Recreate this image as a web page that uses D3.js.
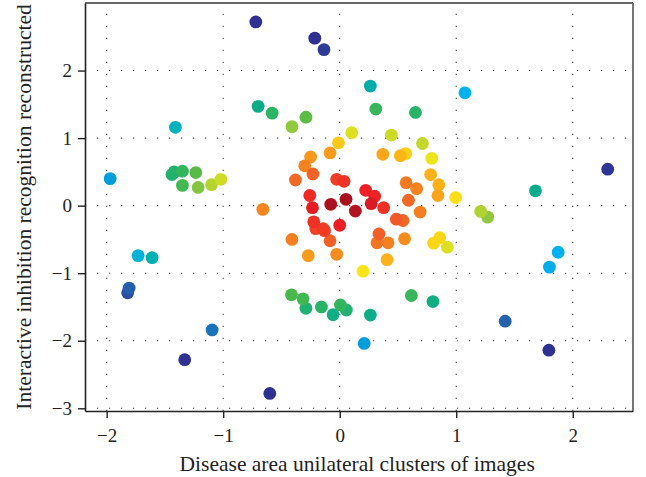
<!DOCTYPE html>
<html>
<head>
<meta charset="utf-8">
<script src="https://cdn.jsdelivr.net/npm/d3@7"></script>
<style>
  html, body { margin: 0; padding: 0; background: #fff; }
  svg { display: block; font-family: "Liberation Serif", "DejaVu Serif", serif; }
  .tick text { font-size: 19px; fill: #222; }
  .axis-title { font-size: 21.5px; fill: #222; }
</style>
</head>
<body>
<div id="chart"></div>
<script>
// ======================================================
//   Scatter: disease area vs. interactive inhibition
// ======================================================

// x / y values (one entry per dot)
const xVals = [
  -0.72, -0.214, -0.135, -0.70, -0.58, -0.41, -0.29, -1.41, -1.97, -1.44,
  -1.42, -1.35, -1.235, -1.35, -1.215, -1.10, -1.02, -0.66, -0.25, -0.30,
  -0.23, -0.38, -0.257, -0.234, -0.083, -0.41, 0.103, -0.011, -0.026, 0.037,
  -0.077, 0.054, 0.134, 0.443, 0.71, 0.37, 0.52, 0.566, 0.79, 0.78,
  0.85, 0.843, 0.995, 0.57, 0.66, 0.59, 0.69, 0.223, 0.30, 0.27,
  0.377, 0.486, 0.543, 0.263, 0.31, 0.65, 1.075, 2.30, 1.68, 1.21,
  1.27, -0.223, -0.206, -0.143, -0.13, 0.0, -0.083, -0.27, -0.026, 0.20,
  -0.414, -0.315, -0.29, -0.157, -0.057, 0.006, 0.057, 0.263, 0.615, 0.80,
  0.21, 0.337, 0.32, 0.415, 0.557, 0.406, 0.806, 0.858, 0.924, 1.875,
  1.80, 1.42, 1.795, -1.73, -1.61, -1.807, -1.82, -1.095, -1.33, -0.60
];
const yVals = [
  2.72, 2.48, 2.31, 1.47, 1.37, 1.17, 1.31, 1.16, 0.40, 0.46,
  0.50, 0.51, 0.49, 0.30, 0.27, 0.31, 0.39, -0.055, 0.72, 0.59,
  0.47, 0.38, 0.15, -0.03, 0.78, -0.50, 1.08, 0.93, 0.39, 0.36,
  0.02, 0.094, -0.08, 1.045, 0.92, 0.76, 0.74, 0.77, 0.70, 0.46,
  0.31, 0.15, 0.12, 0.34, 0.25, 0.08, -0.095, 0.227, 0.14, 0.03,
  -0.03, -0.20, -0.22, 1.77, 1.43, 1.38, 1.67, 0.54, 0.22, -0.085,
  -0.17, -0.24, -0.34, -0.34, -0.37, -0.29, -0.52, -0.74, -0.72, -0.97,
  -1.32, -1.38, -1.52, -1.50, -1.615, -1.47, -1.545, -1.62, -1.33, -1.42,
  -2.04, -0.42, -0.55, -0.55, -0.49, -0.80, -0.555, -0.475, -0.615, -0.69,
  -0.91, -1.71, -2.14, -0.74, -0.77, -1.22, -1.29, -1.84, -2.28, -2.78
];

const xTicks = [-2, -1, 0, 1, 2];
const yTicks = [-3, -2, -1, 0, 1, 2];

const xTitle = "Disease area unilateral clusters of images";
const yTitle = "Interactive inhibition recognition reconstructed";

(function () {
  "use strict";

  // =============================
  // 1. LAYOUT
  // =============================
  const W = 646, H = 477;
  const m = { left: 85, right: 13, top: 3, bottom: 66 };
  const iw = W - m.left - m.right;
  const ih = H - m.top - m.bottom;

  const x = d3.scaleLinear().domain([-2.186, 2.517]).range([0, iw]);
  const y = d3.scaleLinear().domain([-3.04, 3.0]).range([ih, 0]);

  // colour by distance from the cluster centre (rainbow, red inside -> navy outside)
  const centre = [0.03, 0];
  const colour = d3.scaleLinear()
    .domain([0.05, 0.18, 0.28, 0.38, 0.5, 0.64, 0.76, 0.88, 0.99, 1.1, 1.24, 1.38, 1.5, 1.62, 1.75, 1.86, 1.97, 2.06, 2.15, 2.24, 2.35])
    .range(["#9b0d14", "#c1182a", "#ed1c24", "#ef3a26", "#f15a29", "#f47920", "#f7941d", "#fbb117", "#fbe816",
            "#d7df23", "#95c93d", "#4cb848", "#2bb464", "#10ad84", "#00a99d", "#00b3c0", "#00b1ee", "#0099d8",
            "#1b75bc", "#2b53a3", "#2e3192"])
    .clamp(true);

  const points = xVals.map((v, i) => ({
    x: v,
    y: yVals[i],
    d: Math.hypot(v - centre[0], yVals[i] - centre[1])
  }));
  // far points first so the inner ones sit on top
  points.sort((a, b) => b.d - a.d);

  const svg = d3.select("#chart").append("svg")
    .attr("width", W)
    .attr("height", H);

  const g = svg.append("g").attr("transform", `translate(${m.left},${m.top})`);

  // =============================
  // 2. DOTTED GRID
  // =============================
  const grid = g.append("g").attr("class", "grid")
    .attr("stroke", "#444")
    .attr("stroke-width", 1.1)
    .attr("stroke-dasharray", "1.2,10.8");

  grid.selectAll("line.v").data(xTicks).enter().append("line")
    .attr("class", "v")
    .attr("x1", (d) => x(d)).attr("x2", (d) => x(d))
    .attr("y1", ih).attr("y2", 0);

  grid.selectAll("line.h").data(yTicks).enter().append("line")
    .attr("class", "h")
    .attr("x1", 0).attr("x2", iw)
    .attr("y1", (d) => y(d)).attr("y2", (d) => y(d));

  // =============================
  // 3. POINTS
  // =============================
  g.append("g").selectAll("circle").data(points).enter().append("circle")
    .attr("cx", (d) => x(d.x))
    .attr("cy", (d) => y(d.y))
    .attr("r", 6.4)
    .attr("fill", (d) => colour(d.d));

  // =============================
  // 4. FRAME + AXES
  // =============================
  g.append("line")
    .attr("x1", 0).attr("x2", iw).attr("y1", 0).attr("y2", 0)
    .attr("stroke", "#333").attr("stroke-width", 1.5);
  g.append("line")
    .attr("x1", iw).attr("x2", iw).attr("y1", 0).attr("y2", ih)
    .attr("stroke", "#777").attr("stroke-width", 2);

  const fmt = d3.format("d");

  const xAxis = g.append("g")
    .attr("transform", `translate(0,${ih})`)
    .call(d3.axisBottom(x).tickValues(xTicks).tickFormat(fmt).tickSize(7).tickPadding(11).tickSizeOuter(0));

  const yAxis = g.append("g")
    .call(d3.axisLeft(y).tickValues(yTicks).tickFormat(fmt).tickSize(7).tickPadding(6).tickSizeOuter(0));

  [xAxis, yAxis].forEach((ax) => {
    ax.attr("font-family", null).attr("font-size", null);
    ax.select(".domain").attr("stroke", "#222").attr("stroke-width", 1.6);
    ax.selectAll(".tick line").attr("stroke", "#222").attr("stroke-width", 1.4);
  });

  // titles
  svg.append("text")
    .attr("class", "axis-title")
    .attr("x", m.left + x(0.15))
    .attr("y", 471)
    .attr("text-anchor", "middle")
    .text(xTitle);

  svg.append("text")
    .attr("class", "axis-title")
    .attr("transform", `translate(31,${m.top + ih / 2}) rotate(-90)`)
    .attr("text-anchor", "middle")
    .text(yTitle);
})();
</script>
</body>
</html>
